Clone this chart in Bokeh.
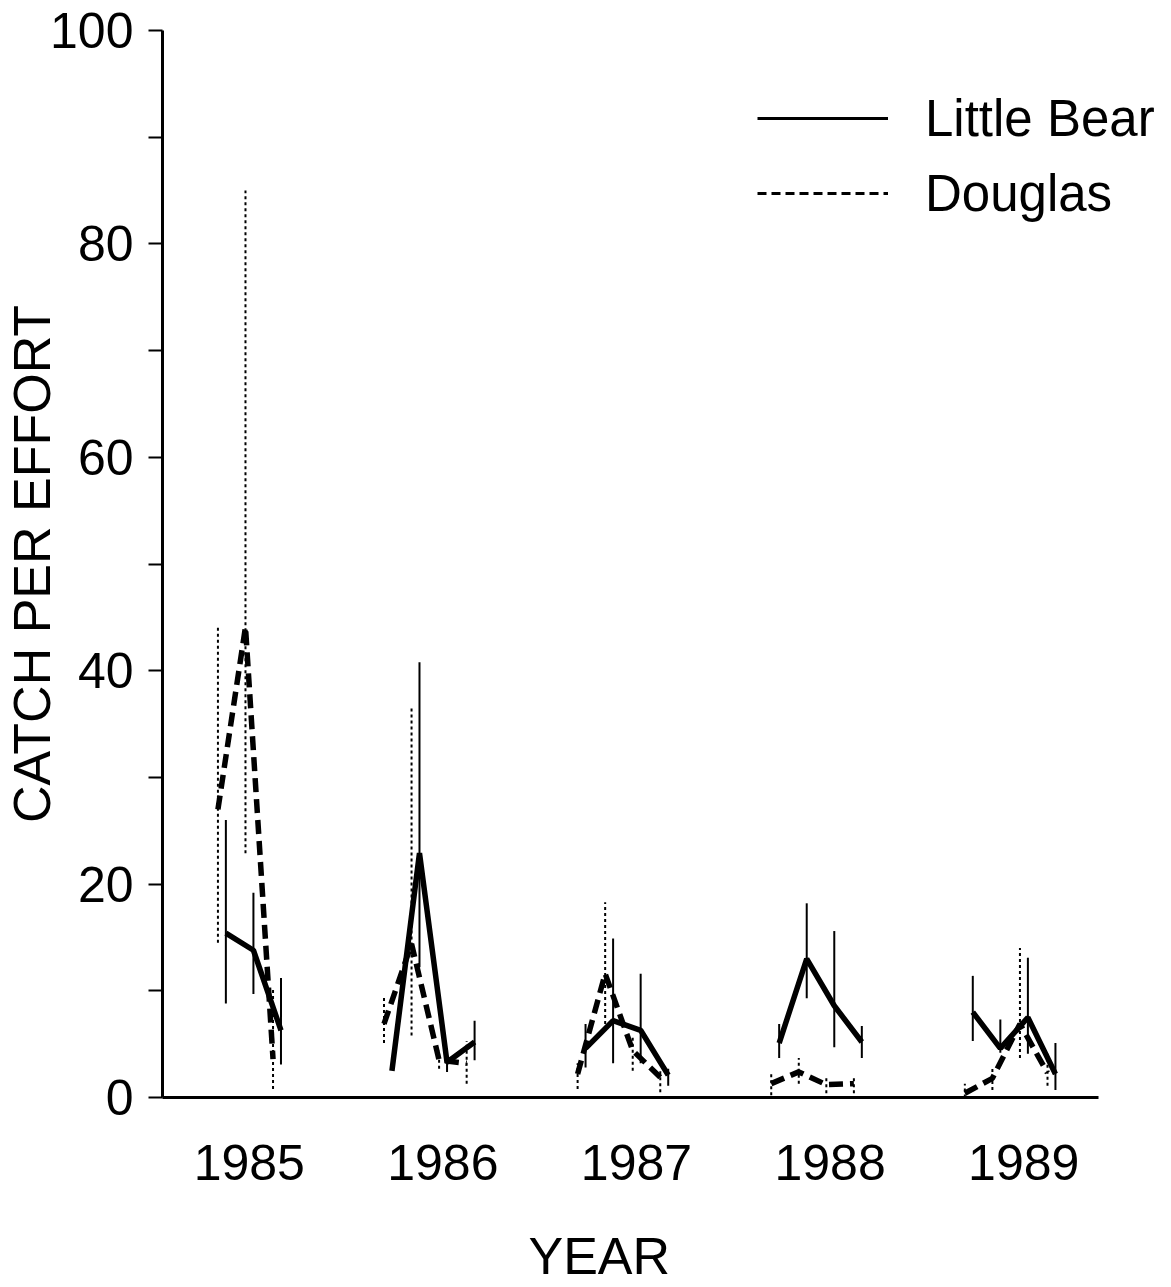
import math
from bokeh.plotting import figure
from bokeh.models import Range1d, FixedTicker, Legend, LegendItem, Title
from bokeh.embed import file_html
from bokeh.resources import INLINE

nan = float("nan")

years = [1985, 1986, 1987, 1988, 1989]
periods = [1, 2, 3, 4]
year_labels = ["1985", "1986", "1987", "1988", "1989"]

# Little Bear: mean and error-bar limits, 4 sampling periods per year
lb_mean = [nan, 15.4, 13.8, 6.3,
           2.5, 22.9, 3.3, 5.2,
           4.6, 7.2, 6.3, 2.1,
           5.1, 13.0, 8.6, 5.2,
           8.0, 4.6, 7.5, 2.2]
lb_high = [nan, 26.0, 19.2, 11.2,
           2.5, 40.8, 4.0, 7.2,
           6.9, 14.9, 11.6, 2.7,
           6.9, 18.2, 15.6, 6.7,
           11.4, 7.3, 13.1, 5.1]
lb_low = [nan, 8.8, 9.7, 3.1,
          2.5, 12.2, 2.4, 3.5,
          2.8, 3.2, 3.2, 1.1,
          3.7, 9.3, 4.7, 3.7,
          5.3, 4.2, 4.1, 0.7]

# Douglas
dg_mean = [nan, 27.0, 44.1, 3.6,
           6.9, 14.4, 3.5, 3.2,
           2.2, 11.6, 4.4, 1.9,
           1.3, 2.4, 1.2, 1.3,
           0.4, 1.8, 6.9, 2.3]
dg_high = [nan, 44.2, 85.0, 10.3,
           9.4, 36.6, 4.4, 5.3,
           3.2, 18.3, 5.6, 2.5,
           2.3, 3.7, 1.8, 1.8,
           1.3, 2.8, 14.0, 4.1]
dg_low = [nan, 14.5, 22.9, 0.8,
          5.1, 5.8, 2.7, 1.3,
          0.8, 6.9, 2.5, 0.5,
          0.2, 1.3, 0.4, 0.4,
          0.0, 0.7, 3.7, 1.1]

# position of each sampling period within a year (fraction of year spacing)
PERIOD_STEP = 0.1423
FIRST_OFFSET = -0.263
DG_SHIFT = -0.041

X_START, X_AXIS_END, X_END = 1984.552, 1989.387, 1989.722


def xpos(year, period, shift):
    return year + FIRST_OFFSET + (period - 1) * PERIOD_STEP + shift


FONT = "Liberation Sans"

p = figure(frame_width=1001, frame_height=1067,
           x_range=Range1d(X_START, X_END), y_range=Range1d(0, 100),
           output_backend="svg", toolbar_location=None,
           min_border_left=162, min_border_top=30, min_border_right=0,
           min_border_bottom=0)
p.outline_line_color = None
p.xgrid.visible = False
p.ygrid.visible = False
p.background_fill_color = "white"


def build(mean, high, low, shift):
    xs_lines, ys_lines = [], []
    ex, elo, ehi = [], [], []
    for yi, yr in enumerate(years):
        lx, ly = [], []
        for pi, per in enumerate(periods):
            k = yi * len(periods) + pi
            if math.isnan(mean[k]):
                continue
            x = xpos(yr, per, shift)
            lx.append(x)
            ly.append(mean[k])
            ex.append(x)
            elo.append(low[k])
            ehi.append(high[k])
        xs_lines.append(lx)
        ys_lines.append(ly)
    return xs_lines, ys_lines, ex, elo, ehi


lxs, lys, lex, lelo, lehi = build(lb_mean, lb_high, lb_low, 0.0)
dxs, dys, dex, delo, dehi = build(dg_mean, dg_high, dg_low, DG_SHIFT)

# error bars
p.segment(x0=dex, y0=delo, x1=dex, y1=dehi, line_color="black",
          line_width=2, line_dash="3 3")
p.segment(x0=lex, y0=lelo, x1=lex, y1=lehi, line_color="black",
          line_width=2)
# mean lines
p.multi_line(xs=dxs, ys=dys, line_color="black", line_width=5.5,
             line_dash="14 7")
p.multi_line(xs=lxs, ys=lys, line_color="black", line_width=5.5)

# legend-only renderers (no visible data)
lb_leg = p.line(x=[nan], y=[nan], line_color="black", line_width=3)
dg_leg = p.line(x=[nan], y=[nan], line_color="black", line_width=3,
                line_dash="9 5")
legend = Legend(items=[LegendItem(label="Little Bear", renderers=[lb_leg]),
                       LegendItem(label="Douglas", renderers=[dg_leg])],
                location=(595, 872), orientation="vertical",
                glyph_width=131, glyph_height=64, label_height=64,
                label_standoff=37, spacing=11, padding=0, margin=0,
                border_line_color=None, background_fill_alpha=0,
                label_text_font=FONT, label_text_font_size="51px",
                label_text_color="black")
p.add_layout(legend, "center")

# y axis
yax = p.yaxis[0]
yax.ticker = FixedTicker(ticks=[0, 20, 40, 60, 80, 100],
                         minor_ticks=[10, 30, 50, 70, 90])
yax.axis_line_width = 3
yax.axis_line_color = "black"
yax.major_tick_out = 14
yax.major_tick_in = 0
yax.minor_tick_out = 14
yax.minor_tick_in = 0
yax.major_tick_line_width = 2
yax.minor_tick_line_width = 2
yax.major_label_standoff = 15
yax.major_label_text_font = FONT
yax.major_label_text_font_size = "50px"
yax.major_label_text_color = "black"
yax.axis_label = "CATCH PER EFFORT"
yax.axis_label_text_font = FONT
yax.axis_label_text_font_size = "52px"
yax.axis_label_text_font_style = "normal"
yax.axis_label_text_color = "black"
yax.axis_label_standoff = -14

# x axis
xax = p.xaxis[0]
xax.ticker = FixedTicker(ticks=years)
xax.bounds = (X_START, X_AXIS_END)
xax.major_label_overrides = {yr: lab for yr, lab in zip(years, year_labels)}
xax.axis_line_width = 3
xax.axis_line_color = "black"
xax.major_tick_line_color = None
xax.minor_tick_line_color = None
xax.major_label_standoff = 41
xax.major_label_text_font = FONT
xax.major_label_text_font_size = "50px"
xax.major_label_text_color = "black"

# x axis title (placed as a title below, left of the frame centre)
xtitle = Title(text="YEAR", align="left", offset=366, standoff=84,
               text_font=FONT, text_font_size="52px",
               text_font_style="normal", text_color="black")
p.add_layout(xtitle, "below")

open("out.html", "w").write(file_html(p, INLINE))
